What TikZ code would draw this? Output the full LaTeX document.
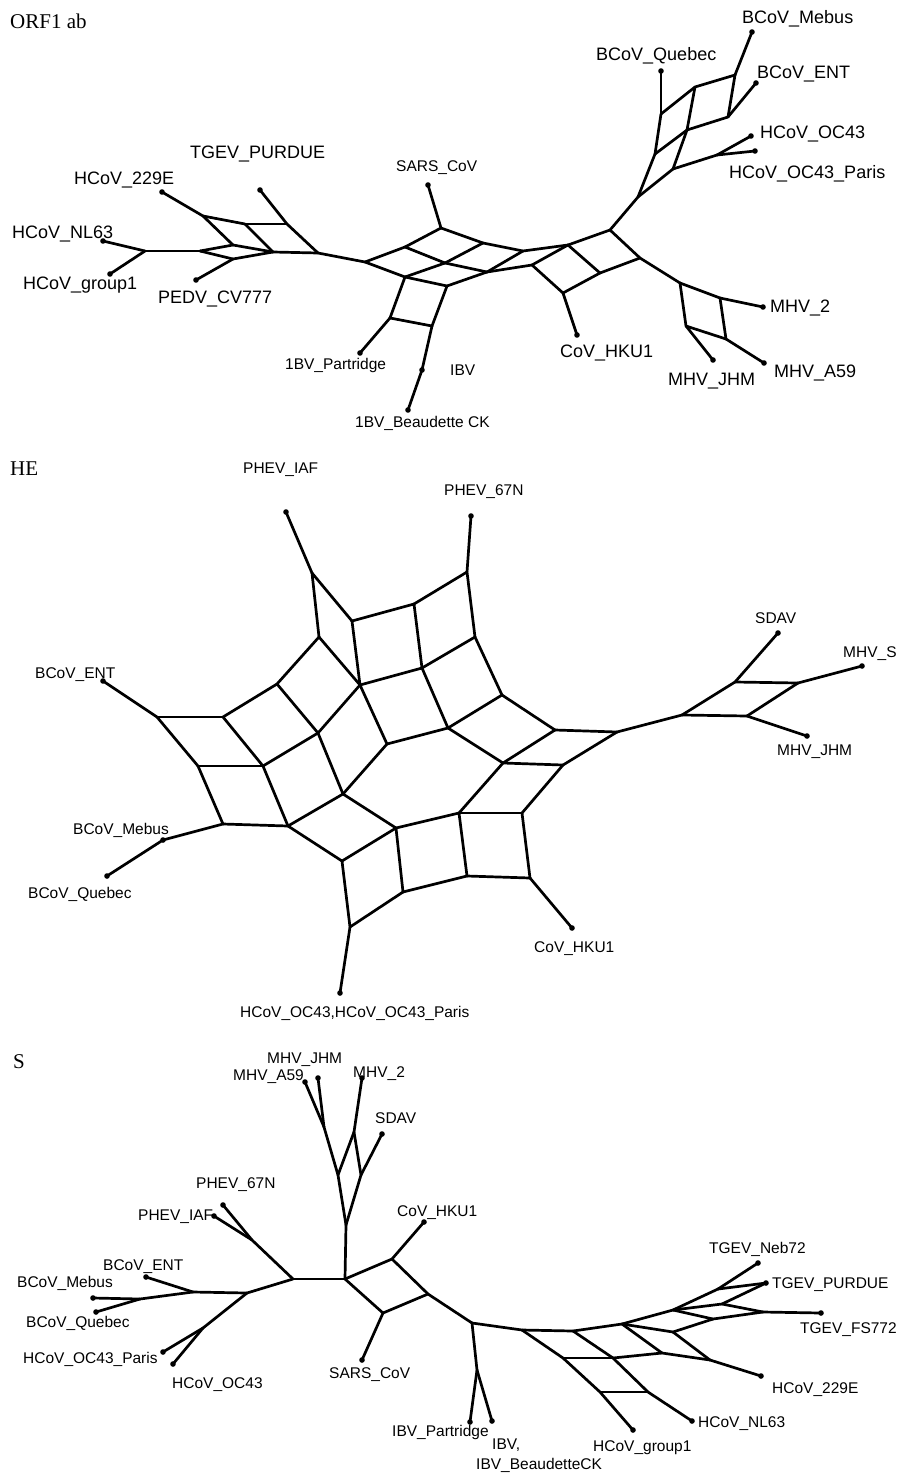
\documentclass[tikz,border=0pt]{standalone}
\usepackage{fontspec}
\setmainfont{Liberation Sans}
\newfontfamily\titelfont{Liberation Serif}
\usepackage{tikz}
\usetikzlibrary{positioning}

\tikzset{
  kante/.style={line width=2.7pt, line cap=round, line join=round},
  lbl/.style={anchor=base west, inner sep=0pt, font=\fontsize{15.5}{17}\selectfont},
  biglbl/.style={anchor=base west, inner sep=0pt, font=\fontsize{18}{20}\selectfont},
  titel/.style={anchor=base west, inner sep=0pt, font=\titelfont\fontsize{21}{23}\selectfont}
}

\begin{document}
\begin{tikzpicture}[x=1pt,y=-1pt]
			\fill[white] (0,0) rectangle (898,1478);
			\useasboundingbox (0,0) rectangle (898,1478);

			% ORF1 ab: Punkte
			\foreach \n/\x/\y in {o229E/162/192, oTGEV/260/190, oNL63/103/241, oGrp/110/274, oPEDV/196/280,
				oSARS/428/185, oPart/360/353, oIBV/422/370, oBeau/408/410, oHKU/577/335,
				oMeb/752/32, oQue/661/71, oENT/756/83, oOC/751/136, oPar/755/151,
				oM2/763/307, oA59/764/363, oJHM/713/360,
				oJ/145/251, oA1/203/216, oA2/245/224, oA3/287/224, oA4/233/245, oA5/233/259,
				oA6/200/251, oA7/273/252, oA8/318/253,
				oB1/365/262, oB2/441/228, oB3/405/247, oB4/483/243, oB5/445/263, oB6/405/277,
				oB7/487/272, oB8/447/286, oB9/523/251,
				oC1/532/265, oC2/568/245, oC3/610/230, oC4/563/293, oC5/600/273, oC6/640/258,
				oL1/390/318, oL2/432/326,
				oD1/735/75, oD2/695/87, oD3/661/114, oD4/728/117, oD5/687/130, oD6/655/154,
				oD7/673/169, oD8/717/155, oD9/638/197,
				oE1/680/283, oE2/720/298, oE3/686/326, oE4/726/339}
				\coordinate (\n) at (\x,\y);

			% ORF1 ab: Kanten
			\foreach \a/\b in {oNL63/oJ, oGrp/oJ, oJ/oA6, oA6/oA4, oA4/oA7, oA6/oA5, oA5/oA7, oA5/oPEDV,
				o229E/oA1, oA1/oA4, oA1/oA2, oA2/oA7, oA2/oA3, oTGEV/oA3, oA3/oA8, oA7/oA8, oA8/oB1,
				oB1/oB3, oB3/oB2, oB2/oSARS, oB2/oB4, oB4/oB9, oB1/oB6, oB6/oB8, oB3/oB5, oB5/oB7,
				oB4/oB5, oB5/oB6, oB8/oB7, oB7/oB9, oB7/oC1, oB9/oC2, oC1/oC2, oC2/oC3, oC2/oC5,
				oC1/oC4, oC4/oC5, oC5/oC6, oC3/oC6, oC4/oHKU,
				oB6/oL1, oB8/oL2, oL1/oL2, oL1/oPart, oL2/oIBV, oIBV/oBeau,
				oC3/oD9, oD9/oD6, oD6/oD3, oD3/oQue, oD3/oD2, oD2/oD1, oD1/oMeb, oD1/oD4, oD4/oENT,
				oD6/oD5, oD5/oD4, oD2/oD5, oD5/oD7, oD9/oD7, oD7/oD8, oD8/oOC, oD8/oPar,
				oC6/oE1, oE1/oE2, oE2/oM2, oE1/oE3, oE2/oE4, oE3/oE4, oE4/oA59, oE3/oJHM}
				\draw[kante] (\a) -- (\b);

			% HE: Punkte
			\foreach \n/\x/\y in {hIAF/286/512, h67N/471/516, hENT/103/681, hMeb/163/840, hQue/107/876,
				hOC/340/993, hHKU/572/928, hSDAV/778/633, hMS/862/666, hJHM/807/736,
				hF1/312/573, hF2/352/621, hF3/319/637, hF4/360/685,
				hG1/467/572, hG2/414/604, hG3/475/637, hG4/422/668, hG5/502/695, hG6/448/728, hG7/387/744,
				hH1/277/684, hH2/223/717, hH3/318/733, hH4/263/766, hH5/343/794, hH6/198/766,
				hH7/223/824, hH8/288/826, hH9/157/717, hH10/396/828, hH11/459/813, hH12/503/763, hH13/342/861,
				hJ1/555/730, hJ2/617/732, hJ3/563/765, hJ4/522/813, hJ5/467/876, hJ6/530/878, hJ7/403/892,
				hK1/350/927, hM1/735/682, hM2/798/683, hM3/682/715, hM4/747/716}
				\coordinate (\n) at (\x,\y);

			% HE: Kanten
			\foreach \a/\b in {hIAF/hF1, hF1/hF2, hF1/hF3, hF2/hF4, hF3/hF4, hF2/hG2, hG2/hG1, hG1/h67N,
				hG1/hG3, hG2/hG4, hF4/hG4, hG4/hG3, hG3/hG5, hG4/hG6, hG5/hG6, hF4/hG7, hG7/hG6,
				hF3/hH1, hH1/hH2, hH2/hH9, hH9/hENT, hH1/hH3, hF4/hH3, hH2/hH4, hH3/hH4, hH9/hH6,
				hH6/hH4, hH6/hH7, hH4/hH8, hH7/hH8, hH7/hMeb, hMeb/hQue, hH3/hH5, hG7/hH5, hH8/hH5,
				hH5/hH10, hH8/hH13, hH13/hH10, hH10/hH11, hH11/hH12, hG6/hH12, hG5/hJ1, hH12/hJ1,
				hH12/hJ3, hJ1/hJ2, hJ3/hJ2, hJ3/hJ4, hH11/hJ4, hJ4/hJ6, hH11/hJ5, hJ5/hJ6, hJ6/hHKU,
				hH10/hJ7, hJ7/hJ5, hH13/hK1, hK1/hJ7, hK1/hOC,
				hJ2/hM3, hM3/hM1, hM1/hSDAV, hM1/hM2, hM2/hMS, hM3/hM4, hM4/hM2, hM4/hJHM}
				\draw[kante] (\a) -- (\b);

			% S: Punkte
			\foreach \n/\x/\y in {sA59/305/1082, sJHM/318/1078, sM2/362/1078, sSDAV/382/1134,
				s67N/223/1205, sIAF/214/1216, sHKU/424/1222,
				sENT/146/1277, sMeb/93/1298, sQue/96/1312, sPar/163/1352, sOC/173/1364, sSARS/362/1360,
				sPart/470/1422, sIBV/492/1421, sGrp/633/1430, sNL/692/1421, s229/761/1376,
				sNeb/758/1263, sPUR/766/1283, sFS/821/1313,
				sN1/324/1127, sN2/338/1175, sN3/354/1132, sN4/361/1175, sN5/346/1225, sN6/345/1279,
				sP1/252/1240, sP2/293/1279, sQ1/392/1259, sS1/383/1313, sS2/428/1294,
				sR1/193/1292, sR2/140/1299, sR3/247/1293, sR4/203/1328,
				sT0/472/1323, sT1/477/1370,
				sU1/522/1330, sU2/573/1331, sU3/622/1324, sU4/673/1310,
				sV1/563/1358, sV2/613/1358, sV3/662/1353, sV4/710/1360,
				sW1/600/1392, sW2/648/1392,
				sX1/718/1289, sX2/722/1304, sX3/763/1312, sX4/713/1319, sX5/673/1332}
				\coordinate (\n) at (\x,\y);

			% S: Kanten
			\foreach \a/\b in {sA59/sN1, sJHM/sN1, sN1/sN2, sM2/sN3, sN3/sN2, sN3/sN4, sSDAV/sN4,
				sN2/sN5, sN4/sN5, sN5/sN6,
				s67N/sP1, sIAF/sP1, sP1/sP2, sP2/sN6, sN6/sQ1, sQ1/sHKU, sN6/sS1, sS1/sS2, sQ1/sS2,
				sS1/sSARS, sS2/sT0, sT0/sT1, sT1/sPart, sT1/sIBV,
				sP2/sR3, sR3/sR1, sR1/sENT, sR1/sR2, sR2/sMeb, sR2/sQue, sR3/sR4, sR4/sPar, sR4/sOC,
				sT0/sU1, sU1/sU2, sU2/sU3, sU3/sU4,
				sU1/sV1, sU2/sV2, sV1/sV2, sV2/sV3, sU3/sV3, sV3/sV4, sV4/s229,
				sV1/sW1, sV2/sW2, sW1/sW2, sW1/sGrp, sW2/sNL,
				sU4/sX1, sX1/sNeb, sX1/sPUR, sPUR/sX2, sX2/sU4, sX2/sX3, sU4/sX4, sX4/sX3, sX3/sFS,
				sU3/sX5, sX5/sX4, sX5/sV4}
				\draw[kante] (\a) -- (\b);

			% Endpunkte
			\foreach \n in {o229E, oTGEV, oNL63, oGrp, oPEDV, oSARS, oPart, oIBV, oBeau, oHKU,
				oMeb, oQue, oENT, oOC, oPar, oM2, oA59, oJHM,
				hIAF, h67N, hENT, hMeb, hQue, hOC, hHKU, hSDAV, hMS, hJHM,
				sA59, sJHM, sM2, sSDAV, s67N, sIAF, sHKU, sENT, sMeb, sQue, sPar, sOC, sSARS,
				sPart, sIBV, sGrp, sNL, s229, sNeb, sPUR, sFS}
				\fill (\n) circle (2.8pt);

			% Titel
			\node[titel] (tORF) at (10,28) {ORF1 ab};
			\node[titel] (tHE) at (10,475) {HE};
			\node[titel] (tS) at (13,1068) {S};

			% Beschriftung ORF1 ab
			\node[biglbl] (lo1) at (742,23) {BCoV\_Mebus};
			\node[biglbl] (lo2) at (596,60) {BCoV\_Quebec};
			\node[biglbl] (lo3) at (757,78) {BCoV\_ENT};
			\node[biglbl] (lo4) at (760,138) {HCoV\_OC43};
			\node[biglbl] (lo5) at (729,178) {HCoV\_OC43\_Paris};
			\node[biglbl] (lo6) at (770,312) {MHV\_2};
			\node[biglbl] (lo7) at (774,377) {MHV\_A59};
			\node[biglbl] (lo8) at (668,385) {MHV\_JHM};
			\node[biglbl] (lo9) at (560,357) {CoV\_HKU1};
			\node[lbl] (lo10) at (450,375) {IBV};
			\node[lbl] (lo11) at (355,427) {1BV\_Beaudette CK};
			\node[lbl] (lo12) at (285,369) {1BV\_Partridge};
			\node[lbl] (lo13) at (396,171) {SARS\_CoV};
			\node[biglbl] (lo14) at (190,158) {TGEV\_PURDUE};
			\node[biglbl] (lo15) at (74,184) {HCoV\_229E};
			\node[biglbl] (lo16) at (12,238) {HCoV\_NL63};
			\node[biglbl] (lo17) at (23,289) {HCoV\_group1};
			\node[biglbl] (lo18) at (158,303) {PEDV\_CV777};

			% Beschriftung HE
			\node[lbl] (lh1) at (243,473) {PHEV\_IAF};
			\node[lbl] (lh2) at (444,495) {PHEV\_67N};
			\node[lbl] (lh3) at (755,623) {SDAV};
			\node[lbl] (lh4) at (843,657) {MHV\_S};
			\node[lbl] (lh5) at (777,755) {MHV\_JHM};
			\node[lbl] (lh6) at (35,678) {BCoV\_ENT};
			\node[lbl] (lh7) at (73,834) {BCoV\_Mebus};
			\node[lbl] (lh8) at (28,898) {BCoV\_Quebec};
			\node[lbl] (lh9) at (534,952) {CoV\_HKU1};
			\node[lbl] (lh10) at (240,1017) {HCoV\_OC43,HCoV\_OC43\_Paris};

			% Beschriftung S
			\node[lbl] (ls1) at (267,1063) {MHV\_JHM};
			\node[lbl] (ls2) at (233,1080) {MHV\_A59};
			\node[lbl] (ls3) at (353,1077) {MHV\_2};
			\node[lbl] (ls4) at (375,1123) {SDAV};
			\node[lbl] (ls5) at (196,1188) {PHEV\_67N};
			\node[lbl] (ls6) at (138,1220) {PHEV\_IAF};
			\node[lbl] (ls7) at (397,1216) {CoV\_HKU1};
			\node[lbl] (ls8) at (103,1270) {BCoV\_ENT};
			\node[lbl] (ls9) at (17,1287) {BCoV\_Mebus};
			\node[lbl] (ls10) at (26,1327) {BCoV\_Quebec};
			\node[lbl] (ls11) at (23,1363) {HCoV\_OC43\_Paris};
			\node[lbl] (ls12) at (172,1388) {HCoV\_OC43};
			\node[lbl] (ls13) at (329,1378) {SARS\_CoV};
			\node[lbl] (ls14) at (392,1436) {IBV\_Partridge};
			\node[lbl] (ls15) at (492,1449) {IBV,};
			\node[lbl] (ls16) at (476,1469) {IBV\_BeaudetteCK};
			\node[lbl] (ls17) at (593,1451) {HCoV\_group1};
			\node[lbl] (ls18) at (698,1427) {HCoV\_NL63};
			\node[lbl] (ls19) at (772,1393) {HCoV\_229E};
			\node[lbl] (ls20) at (709,1253) {TGEV\_Neb72};
			\node[lbl] (ls21) at (772,1288) {TGEV\_PURDUE};
			\node[lbl] (ls22) at (800,1333) {TGEV\_FS772};
		\end{tikzpicture}
\end{document}
